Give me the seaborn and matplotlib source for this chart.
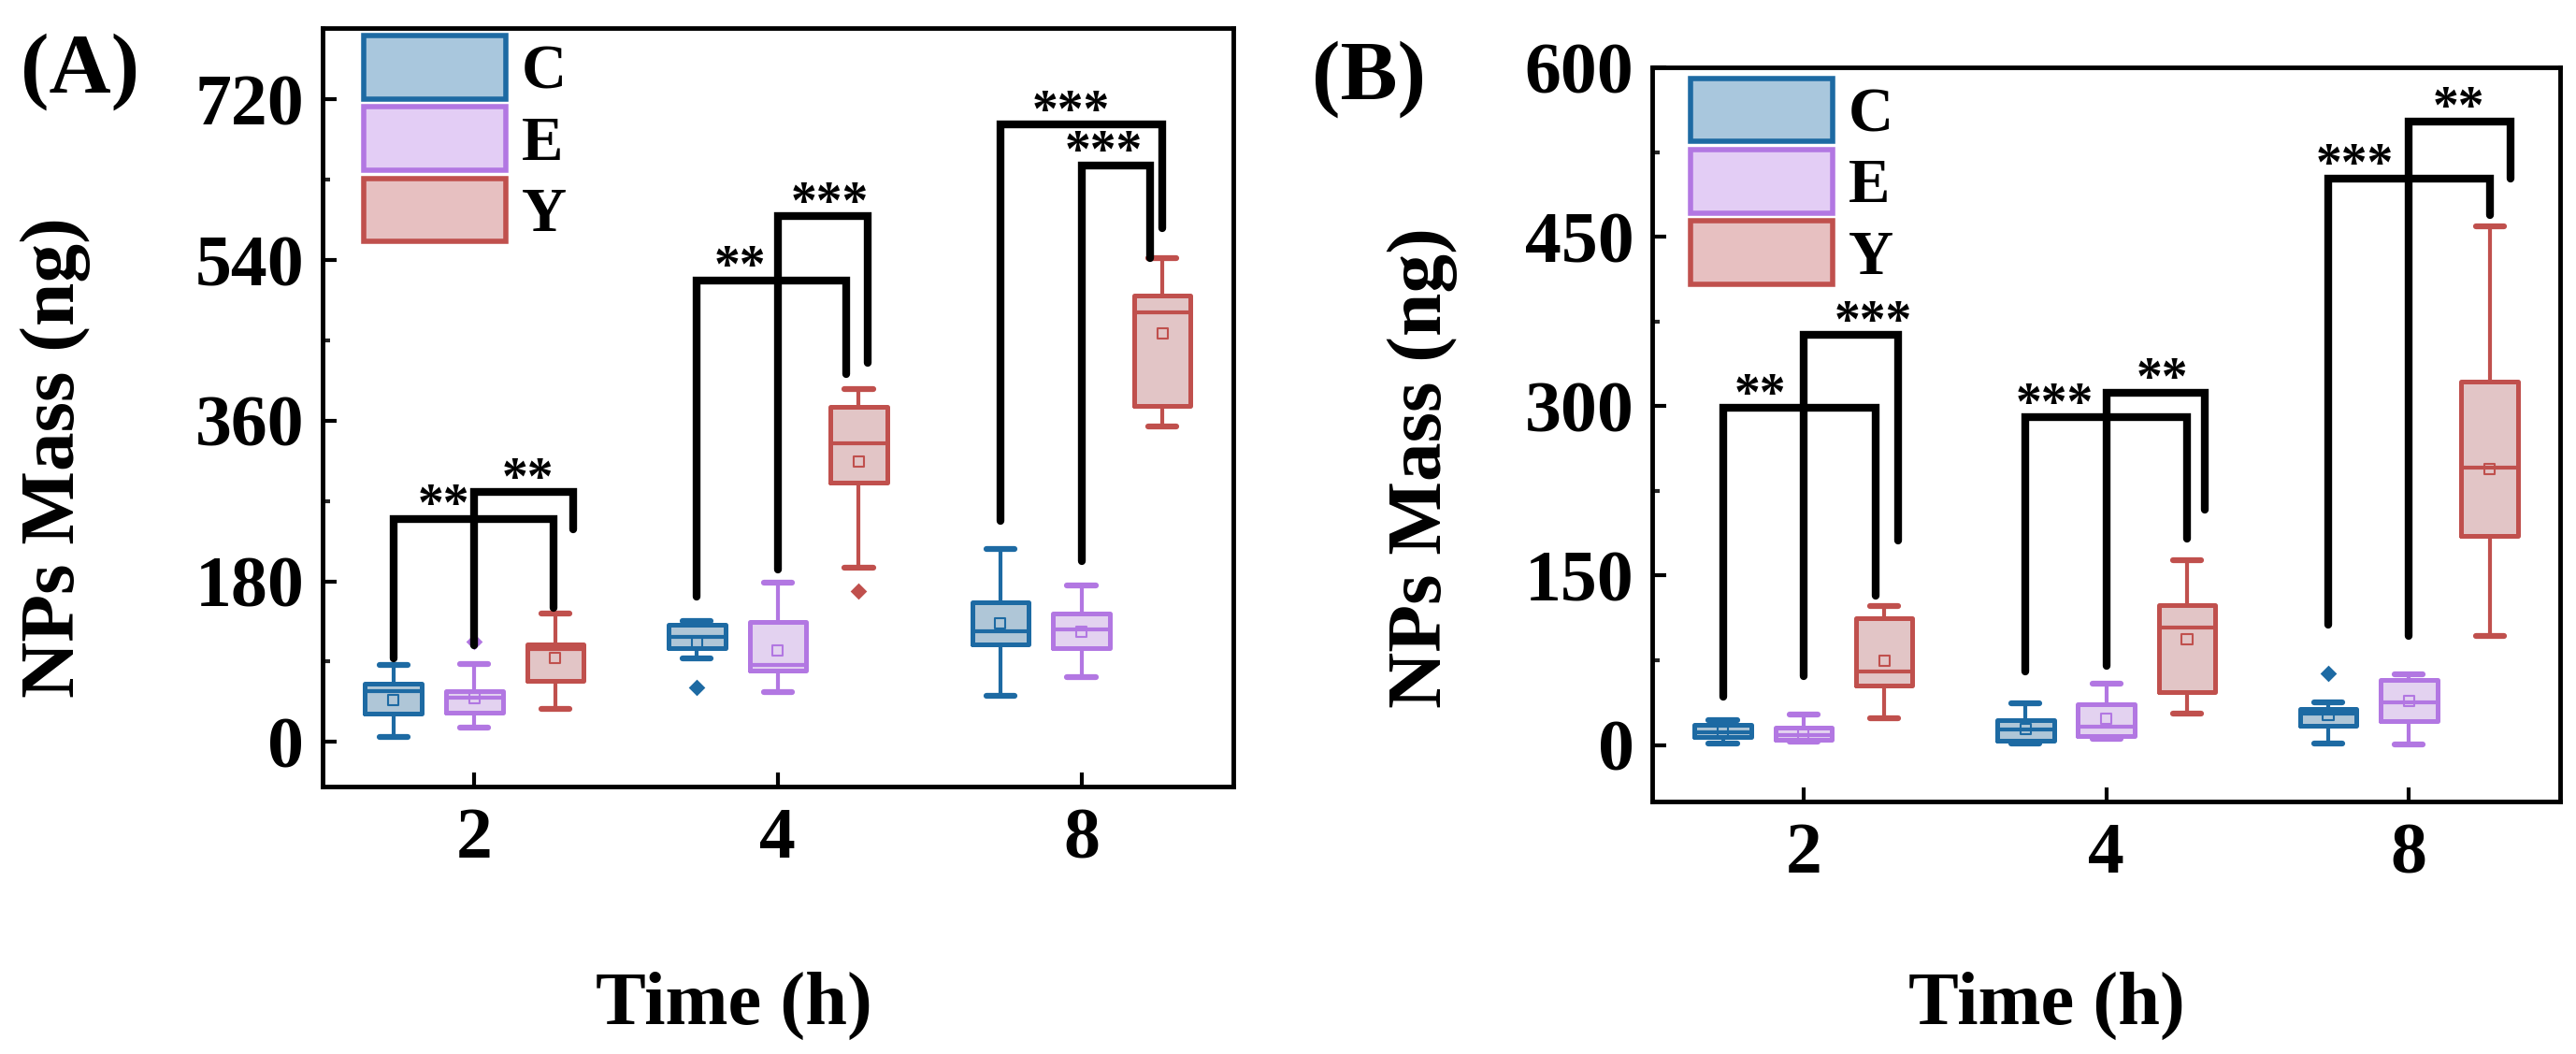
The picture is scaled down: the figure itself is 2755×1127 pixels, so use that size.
import pandas as pd
import seaborn as sns
import matplotlib.pyplot as plt
from matplotlib.patches import Patch
from matplotlib.ticker import MultipleLocator, NullLocator

sns.set_style("ticks")
plt.rcParams['font.family'] = ['Liberation Serif', 'DejaVu Serif']
plt.rcParams['font.weight'] = 'bold'
plt.rcParams['axes.labelweight'] = 'bold'
plt.rcParams['text.color'] = 'black'
plt.rcParams['axes.labelcolor'] = 'black'

times = ['2', '4', '8']
groups = ['C', 'E', 'Y']
edge_cols = ['#1d6aa3', '#b277e2', '#c0504d']
fill_cols = ['#a9c7dd', '#e3cdf5', '#e7c0c1']

# ---- panel A : rows = C, E, Y ; columns = 2, 4, 8 h
a_low = [[5, 94, 52], [16, 56, 73], [37, 195, 353]]
a_q1 = [[32, 105, 109], [33, 80, 105], [68, 291, 377]]
a_med = [[57, 118, 124], [50, 86, 126], [104, 335, 481]]
a_q3 = [[65, 131, 156], [57, 134, 144], [109, 376, 500]]
a_high = [[86, 135, 216], [87, 178, 175], [144, 395, 542]]
a_mean = [[47, 112, 133], [49, 102, 123], [94, 314, 458]]
a_out_group = ['E', 'C', 'Y']
a_out_time = ['2', '4', '4']
a_out_val = [112, 61, 169]

# significance brackets A (from group -> Y)
a_br_time = [0, 0, 1, 1, 2, 2]
a_br_from = ['C', 'E', 'C', 'E', 'C', 'E']
a_br_level = [250, 280, 517, 589, 692, 646]
a_br_left = [94, 108, 163, 193, 248, 203]
a_br_right = [150, 238, 412, 425, 576, 542]
a_br_shift = [-0.005, 0.06, -0.04, 0.03, 0.0, -0.04]
a_br_text = ['**', '**', '**', '***', '***', '***']
a_br_tx = [-0.10, 0.175, -0.126, 0.172, -0.034, 0.072]

# ---- panel B
b_low = [[1.5, 1.5, 1.5], [3, 5.5, 0.5], [23.5, 27.7, 96.5]]
b_q1 = [[7, 4, 17], [4.5, 8, 21.6], [53, 47, 185]]
b_med = [[11, 14, 27.7], [9, 16.5, 37.4], [65, 104, 246]]
b_q3 = [[18, 22, 32], [15.5, 36, 58], [112, 124, 322]]
b_high = [[22, 37, 37.4], [27, 54, 62.3], [123, 164, 459]]
b_mean = [[11.5, 14, 27], [10, 23.5, 38.7], [74.7, 94, 244]]
b_out_group = ['C']
b_out_time = ['8']
b_out_val = [63.7]

b_br_time = [0, 0, 1, 1, 2, 2]
b_br_from = ['C', 'E', 'C', 'E', 'C', 'E']
b_br_level = [298.5, 363, 290, 312, 501.7, 552]
b_br_left = [42.9, 60.8, 65, 69.7, 106.6, 96.5]
b_br_right = [132, 181, 183, 208, 468.9, 501.7]
b_br_shift = [-0.03, 0.045, 0.0, 0.06, 0.0, 0.07]
b_br_text = ['**', '***', '***', '**', '***', '**']
b_br_tx = [-0.144, 0.23, -0.17, 0.185, -0.18, 0.163]


def long_table(low, q1, med, q3, high):
    rows = []
    for gi, g in enumerate(groups):
        for ti, t in enumerate(times):
            for v in [low[gi][ti], q1[gi][ti], med[gi][ti], q3[gi][ti], high[gi][ti]]:
                rows.append({'time': t, 'group': g, 'mass': v})
    return pd.DataFrame(rows)


def mean_table(mean):
    rows = []
    for gi, g in enumerate(groups):
        for ti, t in enumerate(times):
            rows.append({'time': t, 'group': g, 'mass': mean[gi][ti]})
    return pd.DataFrame(rows)


def draw_panel(ax, df, means, outs, br, step, top):
    # filled boxes first, coloured outlines on top
    sns.boxplot(data=df, x='time', y='mass', hue='group', order=times, hue_order=groups,
                palette=fill_cols, width=0.8, gap=0.3, whis=(0, 100), linewidth=0,
                fill=True, legend=False, ax=ax)
    sns.boxplot(data=df, x='time', y='mass', hue='group', order=times, hue_order=groups,
                palette=edge_cols, width=0.8, gap=0.3, whis=(0, 100), linewidth=3,
                fill=False, legend=False, capprops={'linewidth': 4.5},
                boxprops={'linewidth': 3.6}, ax=ax)

    n0 = len(ax.collections)
    sns.stripplot(data=means, x='time', y='mass', hue='group', order=times, hue_order=groups,
                  palette=edge_cols, dodge=True, jitter=False, marker='s', size=8,
                  linewidth=1.5, legend=False, ax=ax)
    for coll in ax.collections[n0:]:
        fc = coll.get_facecolors()
        coll.set_edgecolors(fc)
        coll.set_facecolors('none')

    sns.stripplot(data=outs, x='time', y='mass', hue='group', order=times, hue_order=groups,
                  palette=edge_cols, dodge=True, jitter=False, marker='D', size=9,
                  linewidth=0, legend=False, ax=ax)

    # brackets
    slot = 0.8 / len(groups)
    for t, g, lev, lb, rb, sh, txt, tx in zip(*br):
        xl = t + (groups.index(g) - 1) * slot
        xr = t + slot + sh
        ax.plot([xl, xl, xr, xr], [lb, lev, lev, rb], color='black', lw=6,
                solid_joinstyle='miter', solid_capstyle='round', zorder=5)
        ax.annotate(txt, (t + tx, lev), xytext=(0, 9), textcoords='offset points',
                    ha='center', va='center', fontsize=40, fontweight='bold', zorder=6)

    ax.set_xlim(-0.5, 2.5)
    ax.set_ylim(-50, top)
    ax.yaxis.set_major_locator(MultipleLocator(step))
    ax.yaxis.set_minor_locator(MultipleLocator(step / 2))
    ax.xaxis.set_minor_locator(NullLocator())
    ax.tick_params(axis='both', which='major', direction='in', length=11, width=3,
                   labelsize=56, colors='black', top=False, right=False)
    ax.tick_params(axis='x', which='major', pad=16)
    ax.tick_params(axis='y', which='major', pad=14)
    ax.tick_params(axis='y', which='minor', direction='in', length=6, width=3, right=False)
    for s in ax.spines.values():
        s.set_visible(True)
        s.set_linewidth(3.5)
        s.set_color('black')

    ax.set_xlabel('Time (h)', fontsize=58, fontweight='bold')
    ax.set_ylabel('NPs Mass (ng)', fontsize=60, fontweight='bold')


fig = plt.figure(figsize=(27.55, 11.27), dpi=100)
ax_a = fig.add_axes([0.1252, 0.2538, 0.3535, 0.7196])
ax_b = fig.add_axes([0.6414, 0.2396, 0.3525, 0.6965])

df_a = long_table(a_low, a_q1, a_med, a_q3, a_high)
out_a = pd.DataFrame({'time': a_out_time, 'group': a_out_group, 'mass': a_out_val})
draw_panel(ax_a, df_a, mean_table(a_mean), out_a,
           [a_br_time, a_br_from, a_br_level, a_br_left, a_br_right, a_br_shift, a_br_text, a_br_tx],
           180, 800)

df_b = long_table(b_low, b_q1, b_med, b_q3, b_high)
out_b = pd.DataFrame({'time': b_out_time, 'group': b_out_group, 'mass': b_out_val})
draw_panel(ax_b, df_b, mean_table(b_mean), out_b,
           [b_br_time, b_br_from, b_br_level, b_br_left, b_br_right, b_br_shift, b_br_text, b_br_tx],
           150, 600)

# label placement
ax_a.xaxis.set_label_coords(0.452, -0.313)
ax_a.xaxis.label.set_va('baseline')
ax_b.xaxis.set_label_coords(0.434, -0.303)
ax_b.xaxis.label.set_va('baseline')
ax_a.yaxis.set_label_coords(-0.2546, 0.434)
ax_b.yaxis.set_label_coords(-0.214, 0.455)

# legends
handles = [Patch(facecolor=f, edgecolor=e, linewidth=4) for f, e in zip(fill_cols, edge_cols)]
for ax, anchor in [(ax_a, (0.045, 0.990)), (ax_b, (0.042, 0.985))]:
    ax.legend(handles=handles, labels=groups, loc='upper left', bbox_to_anchor=anchor,
              frameon=False, fontsize=48, handlelength=2.28, handleheight=1.18,
              labelspacing=0.09, handletextpad=0.25, borderpad=0, borderaxespad=0)

fig.text(0.0312, 0.9317, '(A)', fontsize=66, fontweight='bold', ha='center', va='center')
fig.text(0.5314, 0.9246, '(B)', fontsize=66, fontweight='bold', ha='center', va='center')

fig.savefig('out.png', dpi=100)
